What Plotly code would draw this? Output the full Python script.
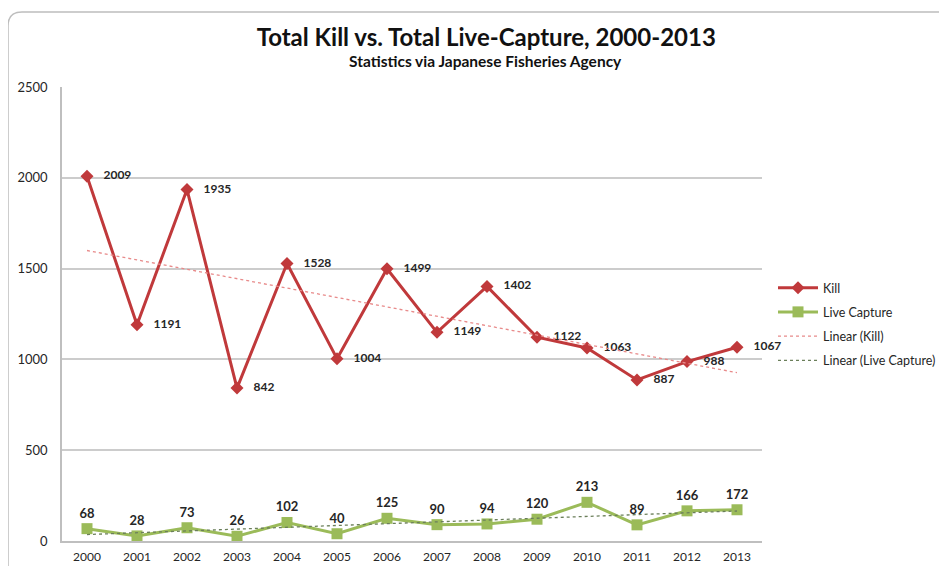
import numpy as np
import plotly.graph_objects as go

years = ["2000", "2001", "2002", "2003", "2004", "2005", "2006",
         "2007", "2008", "2009", "2010", "2011", "2012", "2013"]
kill = [2009, 1191, 1935, 842, 1528, 1004, 1499, 1149, 1402, 1122, 1063, 887, 988, 1067]
live = [68, 28, 73, 26, 102, 40, 125, 90, 94, 120, 213, 89, 166, 172]

idx = np.arange(len(years))
kfit = np.polyval(np.polyfit(idx, kill, 1), idx)
lfit = np.polyval(np.polyfit(idx, live, 1), idx)

RED = "#C0393B"
GREEN = "#9BBB59"
FONT = "Lato"
TXT = "#262626"

W, H = 947, 566
ML, MR, MT, MB = 54, 193, 79, 33

fig = go.Figure()
fig.add_trace(go.Scatter(
    x=years, y=kill, name="Kill", legendgroup="a", mode="lines+markers+text",
    line=dict(color=RED, width=3), marker=dict(symbol="diamond", size=10, color=RED),
    text=[f"   <b>{v}</b>" for v in kill], textposition="middle right",
    textfont=dict(family=FONT, size=12, color=TXT), cliponaxis=False,
))
fig.add_trace(go.Scatter(
    x=years, y=live, name="Live Capture", legendgroup="b", mode="lines+markers+text",
    line=dict(color=GREEN, width=3), marker=dict(symbol="square", size=11, color=GREEN),
    text=[f"<b>{v}</b>" for v in live], textposition="top center",
    textfont=dict(family=FONT, size=13, color=TXT), cliponaxis=False,
))
fig.add_trace(go.Scatter(
    x=years, y=kfit, name="Linear (Kill)", legendgroup="c", mode="lines",
    line=dict(color="#E88A8A", width=1.3, dash="dot"),
))
fig.add_trace(go.Scatter(
    x=years, y=lfit, name="Linear (Live Capture)", legendgroup="d", mode="lines",
    line=dict(color="#6B7F5A", width=1.3, dash="dot"),
))

pw, ph = W - ML - MR, H - MT - MB
def px(xp):
    return (xp - ML) / pw
def py(yp):
    return (H - MB - yp) / ph
x0, y0, r = 0, 4, 14
path = (f"M {px(x0)},{py(H+20)} L {px(x0)},{py(y0+r)} "
        f"Q {px(x0)},{py(y0)} {px(x0+r)},{py(y0)} L {px(W+20)},{py(y0)}")

fig.update_layout(
    width=W, height=H,
    margin=dict(l=ML, r=MR, t=MT, b=MB, autoexpand=False),
    paper_bgcolor="white", plot_bgcolor="white",
    font=dict(family=FONT, size=12, color=TXT),
    title=dict(
        text="<b>Total Kill vs. Total Live-Capture, 2000-2013</b>",
        x=0.505, xanchor="center", xref="container", y=1 - 30 / H, yanchor="middle",
        font=dict(family=FONT, size=24, color="#111"),
    ),
    annotations=[dict(
        text="<b>Statistics via Japanese Fisheries Agency</b>",
        xref="paper", yref="paper", x=px(477), y=py(53), xanchor="center", yanchor="middle",
        showarrow=False, font=dict(family=FONT, size=15.5, color="#111"),
    )],
    xaxis=dict(
        type="category", range=[-0.5, 13.5], showgrid=False,
        showline=True, linecolor="#BFBFBF", linewidth=1.5,
        ticks="", ticklabelstandoff=4,
        tickfont=dict(family=FONT, size=12, color=TXT),
    ),
    yaxis=dict(
        range=[0, 2500], dtick=500, showgrid=True, gridcolor="#CCCCCC", gridwidth=1.5,
        showline=True, linecolor="#BFBFBF", linewidth=1.5, zeroline=False,
        ticks="", ticklabelstandoff=10,
        tickfont=dict(family=FONT, size=13, color=TXT),
    ),
    legend=dict(
        x=px(765), xanchor="left", y=py(316), yanchor="middle",
        bgcolor="rgba(0,0,0,0)",
        font=dict(family=FONT, size=12.5, color=TXT),
        tracegroupgap=5, itemwidth=40,
    ),
    showlegend=True,
    shapes=[dict(type="path", xref="paper", yref="paper", path=path,
                 line=dict(color="#BDBDBD", width=1.5), layer="below")],
)

fig.write_html("out.html")
